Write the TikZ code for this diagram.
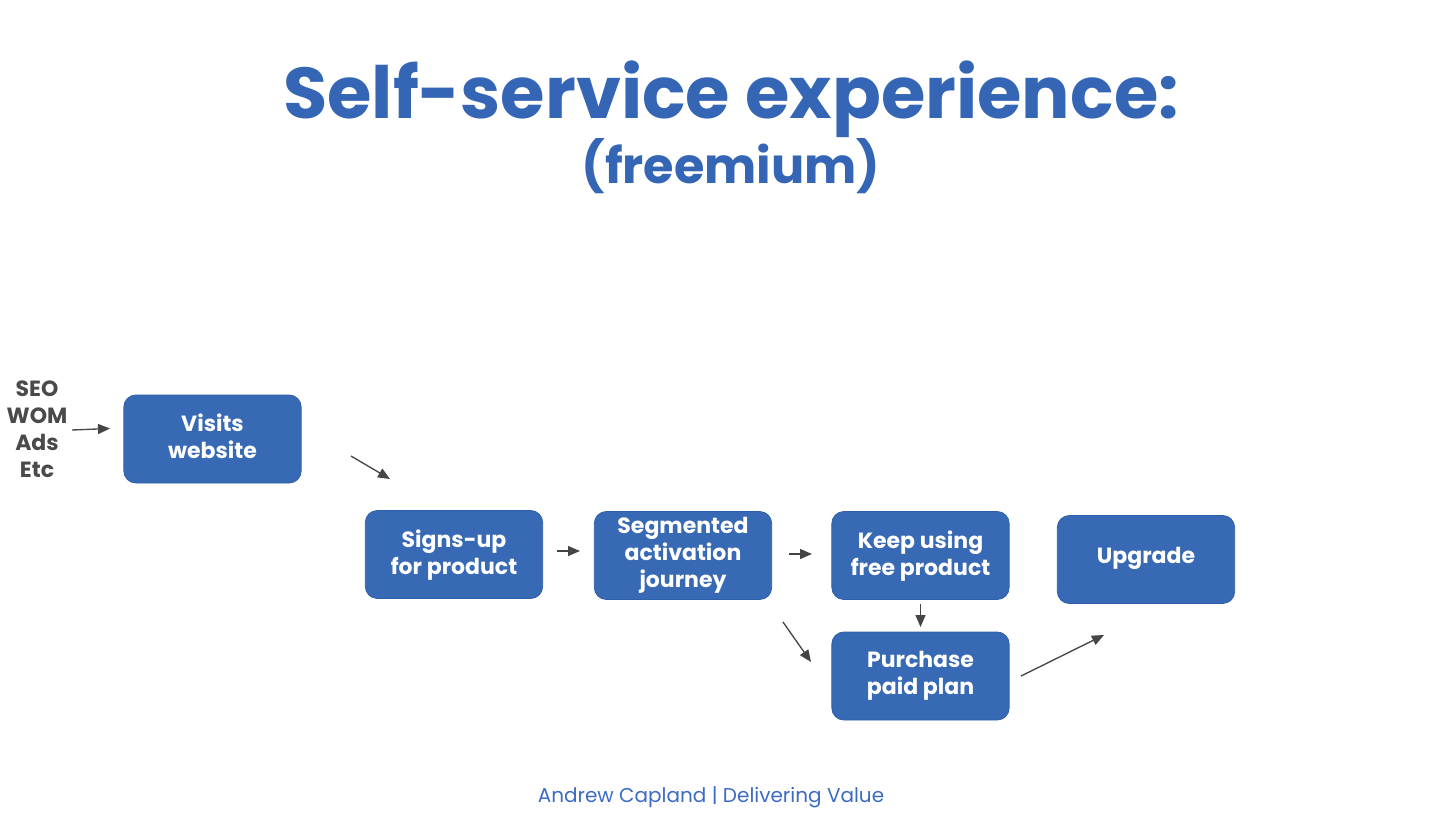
\documentclass[tikz,border=0pt]{standalone}
\usepackage{fontspec}
\setmainfont{Poppins}
\usetikzlibrary{arrows.meta}
\definecolor{boxblue}{HTML}{3869B4}
\definecolor{boxedge}{HTML}{2E5FAA}
\definecolor{titleblue}{HTML}{3566B5}
\definecolor{footblue}{HTML}{3C6BC4}
\definecolor{arrowgray}{HTML}{454545}
\definecolor{srcgray}{HTML}{4A4A4A}
\tikzset{
  stepbox/.style={draw=boxedge, line width=0.6pt, fill=boxblue, rounded corners=9pt,
    minimum width=133pt, minimum height=66pt, text=white, align=center,
    font=\bfseries\fontsize{16.5}{20.25}\selectfont, inner sep=0pt, text depth=4pt},
  flow/.style={draw=arrowgray, line width=1pt, -{Triangle[length=9pt,width=7.5pt]}},
}
\begin{document}
\begin{tikzpicture}[x=0.75pt,y=-0.75pt]
\useasboundingbox (0,0) rectangle (1456,821);
\node[text=titleblue, font=\bfseries\fontsize{54}{58}\selectfont, anchor=base] (title) at (731,118) {Self-service experience:};
\node[text=titleblue, font=\bfseries\fontsize{37}{40}\selectfont, anchor=base] (sub) at (731,183) {(freemium)};
\node[text=srcgray, align=center, font=\bfseries\fontsize{16.5}{20.25}\selectfont, inner sep=0pt] (src) at (37,429) {SEO\\WOM\\Ads\\Etc};
\node[stepbox] (visit) at (212.5,439) {Visits\\website};
\node[stepbox] (sign) at (454,554.5) {Signs-up\\for product};
\node[stepbox] (seg) at (683,555.5) {Segmented\\activation\\journey};
\node[stepbox] (keep) at (920.5,555.5) {Keep using\\free product};
\node[stepbox, text depth=6pt] (upg) at (1146,559.5) {Upgrade};
\node[stepbox] (buy) at (920.5,676) {Purchase\\paid plan};
\node[text=footblue, font=\fontsize{15}{18}\selectfont, anchor=base] (foot) at (711,802) {Andrew Capland | Delivering Value};
\coordinate (a1s) at (72,430); \coordinate (a1e) at (110,428.5);
\coordinate (a2s) at (351,456); \coordinate (a2e) at (390,479);
\coordinate (a3s) at (557,551); \coordinate (a3e) at (580,551);
\coordinate (a4s) at (789,554); \coordinate (a4e) at (812,554);
\coordinate (a5s) at (920.5,604); \coordinate (a5e) at (920.5,627);
\coordinate (a6s) at (783,622); \coordinate (a6e) at (811,662);
\coordinate (a7s) at (1021,676); \coordinate (a7e) at (1104,635);
\draw[flow] (a1s) -- (a1e);
\draw[flow] (a2s) -- (a2e);
\draw[flow] (a3s) -- (a3e);
\draw[flow] (a4s) -- (a4e);
\draw[flow] (a5s) -- (a5e);
\draw[flow] (a6s) -- (a6e);
\draw[flow] (a7s) -- (a7e);
\end{tikzpicture}
\end{document}
